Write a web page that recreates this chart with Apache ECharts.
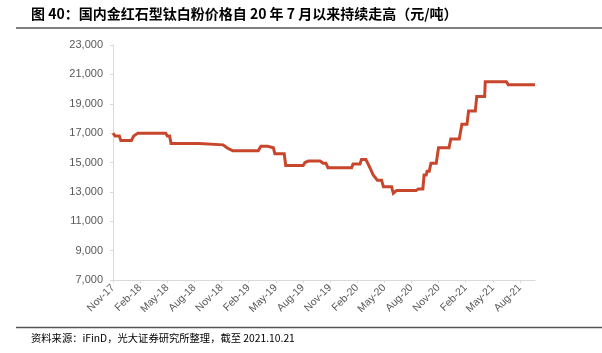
<!DOCTYPE html>
<html>
<head>
<meta charset="utf-8">
<script src="https://cdn.jsdelivr.net/npm/echarts@6/dist/echarts.min.js"></script>
<style>
html,body{margin:0;padding:0;background:#fff;}
#c{width:602px;height:353px;}
</style>
</head>
<body>
<div id="c"></div>
<script>
// ---- data ----
var titleText = '图 40：国内金红石型钛白粉价格自 20 年 7 月以来持续走高（元/吨）';
var sourceText = '资料来源：iFinD，光大证券研究所整理，截至 2021.10.21';
var xTickLabels = ['Nov-17','Feb-18','May-18','Aug-18','Nov-18','Feb-19','May-19','Aug-19','Nov-19','Feb-20','May-20','Aug-20','Nov-20','Feb-21','May-21','Aug-21'];
var yTicks = [7000, 9000, 11000, 13000, 15000, 17000, 19000, 21000, 23000];
var priceDates = [
 '2017-11-01','2017-11-05','2017-11-08','2017-11-22','2017-11-27','2018-01-02','2018-01-10','2018-01-24',
 '2018-04-26','2018-05-01','2018-05-09','2018-05-14','2018-08-17','2018-08-21','2018-11-06','2018-11-19',
 '2018-11-29','2018-12-09','2019-03-03','2019-03-12','2019-04-04','2019-04-08','2019-04-23','2019-04-28',
 '2019-05-30','2019-06-04','2019-08-02','2019-08-08','2019-08-14','2019-08-20','2019-09-28','2019-10-08',
 '2019-10-18','2019-10-25','2020-01-13','2020-01-18','2020-02-10','2020-02-15','2020-02-29','2020-03-16',
 '2020-03-25','2020-04-08','2020-04-22','2020-04-28','2020-05-26','2020-06-01','2020-06-07','2020-06-12',
 '2020-08-17','2020-08-25','2020-09-09','2020-09-13','2020-09-20','2020-09-23','2020-09-30','2020-10-06',
 '2020-10-24','2020-11-01','2020-12-06','2020-12-12','2021-01-10','2021-01-19','2021-02-05','2021-02-10',
 '2021-03-03','2021-03-08','2021-04-04','2021-04-06','2021-06-16','2021-06-22','2021-09-21'
];
var priceValues = [
 17000,17000,16800,16800,16500,16500,16800,17000,
 17000,16800,16800,16300,16300,16200,16200,16000,
 15900,15800,15800,16100,16100,16000,16000,15600,
 15600,14800,14800,15000,15000,15100,15100,14950,
 14950,14650,14650,14900,14900,15200,15200,14550,
 14150,13800,13800,13350,13350,12900,12900,13100,
 13100,13200,13200,14150,14150,14400,14400,14950,
 14950,16000,16000,16600,16600,17600,17600,18500,
 18500,19500,19500,20500,20500,20300,20300
];

// months elapsed since 2017-11-01 (axis unit)
function toMonth(s){
  var p = s.split('-'), y = +p[0], m = +p[1], d = +p[2];
  var dim = new Date(y, m, 0).getDate();
  return (y - 2017) * 12 + (m - 11) + (d - 1) / dim;
}
var seriesData = priceDates.map(function(d, i){ return [toMonth(d), priceValues[i]]; });
var xMax = toMonth(priceDates[priceDates.length - 1]);

var chart = echarts.init(document.getElementById('c'), null, {renderer: 'canvas'});
var font = 'Liberation Sans, Arial, sans-serif';
var cjk = '"Noto Sans CJK SC", "Liberation Sans", sans-serif';
chart.setOption({
  animation: false,
  backgroundColor: '#fff',
  title: [{
    text: titleText, left: 26, top: 2,
    textStyle: {fontFamily: cjk, fontSize: 14, fontWeight: 'bold', color: '#000'}
  },{
    text: sourceText, left: 26, top: 328,
    textStyle: {fontFamily: cjk, fontSize: 10.3, fontWeight: 'normal', color: '#000'}
  }],
  graphic: [
    {type: 'line', shape: {x1: 16, y1: 28, x2: 602, y2: 28}, style: {stroke: '#000', lineWidth: 1.2}},
    {type: 'line', shape: {x1: 16, y1: 327.5, x2: 602, y2: 327.5}, style: {stroke: '#555', lineWidth: 1.5}}
  ],
  grid: {left: 113, right: 67, top: 45, bottom: 73, containLabel: false},
  xAxis: {
    type: 'value', min: 0, max: xMax, interval: 3,
    splitLine: {show: false},
    axisLine: {show: true, lineStyle: {color: '#d9d9d9', width: 1}},
    axisTick: {show: true, length: 3, lineStyle: {color: '#d9d9d9'}},
    axisLabel: {
      rotate: 45, margin: 6, color: '#595959', fontFamily: font, fontSize: 10.5,
      showMaxLabel: false,
      formatter: function(v){ var i = Math.round(v / 3); return (Math.abs(v - i * 3) < 1e-6 && xTickLabels[i]) ? xTickLabels[i] : ''; }
    }
  },
  yAxis: {
    type: 'value', min: yTicks[0], max: yTicks[yTicks.length - 1], interval: yTicks[1] - yTicks[0],
    splitLine: {show: false},
    axisLine: {show: true, lineStyle: {color: '#d9d9d9', width: 1}},
    axisTick: {show: true, length: 3, lineStyle: {color: '#d9d9d9'}},
    axisLabel: {
      margin: 10, color: '#595959', fontFamily: font, fontSize: 11,
      formatter: function(v){ return v.toString().replace(/\B(?=(\d{3})+(?!\d))/g, ','); }
    }
  },
  series: [{
    type: 'line', data: seriesData, showSymbol: false, symbol: 'none',
    lineStyle: {color: '#C8462B', width: 3, join: 'miter'},
    silent: true
  }]
});
</script>
</body>
</html>
